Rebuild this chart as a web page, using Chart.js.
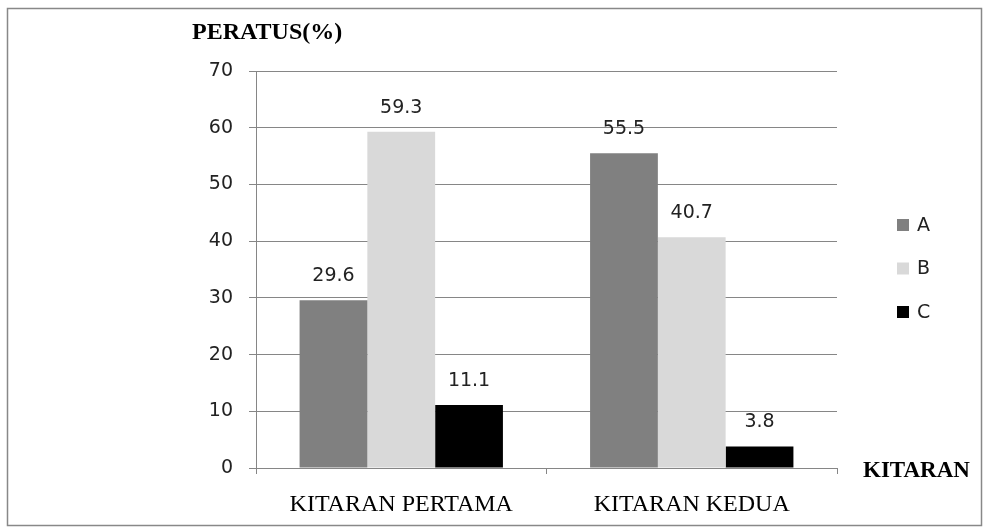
<!DOCTYPE html>
<html>
<head>
<meta charset="utf-8">
<script src="https://cdn.jsdelivr.net/npm/chart.js@4/dist/chart.umd.min.js"></script>
<style>
  body { margin: 0; background: #fff; }
</style>
</head>
<body>
<canvas id="kitaranChart" width="984" height="528"></canvas>
<script>
var categories = ["KITARAN PERTAMA", "KITARAN KEDUA"];
var seriesNames = ["A", "B", "C"];
var seriesA = [29.6, 55.5];
var seriesB = [59.3, 40.7];
var seriesC = [11.1, 3.8];
var seriesColors = ["#808080", "#d9d9d9", "#000000"];
var yTitle = "PERATUS(%)";
var xTitle = "KITARAN";

// labels above each bar + frame, axis titles and legend
var extras = {
  id: "extras",
  beforeDraw: function (chart) {
    var c = chart.ctx;
    c.save();
    c.fillStyle = "#fff";
    c.fillRect(0, 0, chart.width, chart.height);
    c.strokeStyle = "#888";
    c.lineWidth = 1.5;
    c.strokeRect(7.5, 8.5, 974, 517);
    c.restore();
  },
  afterDatasetsDraw: function (chart) {
    var c = chart.ctx;
    c.save();
    c.font = "19px 'DejaVu Sans'";
    c.fillStyle = "#222";
    c.textAlign = "center";
    c.textBaseline = "middle";
    chart.data.datasets.forEach(function (ds, i) {
      chart.getDatasetMeta(i).data.forEach(function (bar, j) {
        c.fillText(ds.data[j].toFixed(1), bar.x, bar.y - 24);
      });
    });

    c.fillStyle = "#000";
    c.textAlign = "left";
    c.textBaseline = "alphabetic";
    c.font = "bold 24px 'Liberation Serif'";
    c.fillText(yTitle, 192, 39);
    c.font = "bold 23px 'Liberation Serif'";
    c.fillText(xTitle, 863, 477);

    c.font = "19px 'DejaVu Sans'";
    c.textBaseline = "middle";
    chart.data.datasets.forEach(function (ds, i) {
      var y = 225 + i * 43.5;
      c.fillStyle = ds.backgroundColor;
      c.fillRect(897, y - 6, 12, 12);
      c.fillStyle = "#222";
      c.fillText(ds.label, 917, y + 1);
    });
    c.restore();
  }
};

var ctx = document.getElementById("kitaranChart").getContext("2d");
var kitaranChart = new Chart(ctx, {
  type: "bar",
  data: {
    labels: categories,
    datasets: [
      { label: seriesNames[0], data: seriesA, backgroundColor: seriesColors[0] },
      { label: seriesNames[1], data: seriesB, backgroundColor: seriesColors[1] },
      { label: seriesNames[2], data: seriesC, backgroundColor: seriesColors[2] }
    ]
  },
  options: {
    responsive: false,
    animation: false,
    categoryPercentage: 0.7,
    barPercentage: 1.0,
    layout: { padding: { left: 0, right: 147, top: 71, bottom: 0 } },
    plugins: {
      legend: { display: false },
      tooltip: { enabled: false }
    },
    scales: {
      y: {
        min: 0,
        max: 70,
        ticks: {
          stepSize: 10,
          padding: 16,
          color: "#222",
          font: { family: "DejaVu Sans", size: 19 }
        },
        grid: { color: "#868686", tickLength: 7 },
        border: { color: "#868686" },
        afterFit: function (scale) { scale.width = 256; }
      },
      x: {
        ticks: {
          padding: 16,
          color: "#000",
          font: { family: "Liberation Serif", size: 24 }
        },
        grid: { drawOnChartArea: false, color: "#868686", tickLength: 6 },
        border: { color: "#868686" },
        afterFit: function (scale) { scale.height = 60; }
      }
    }
  },
  plugins: [extras]
});
</script>
</body>
</html>
